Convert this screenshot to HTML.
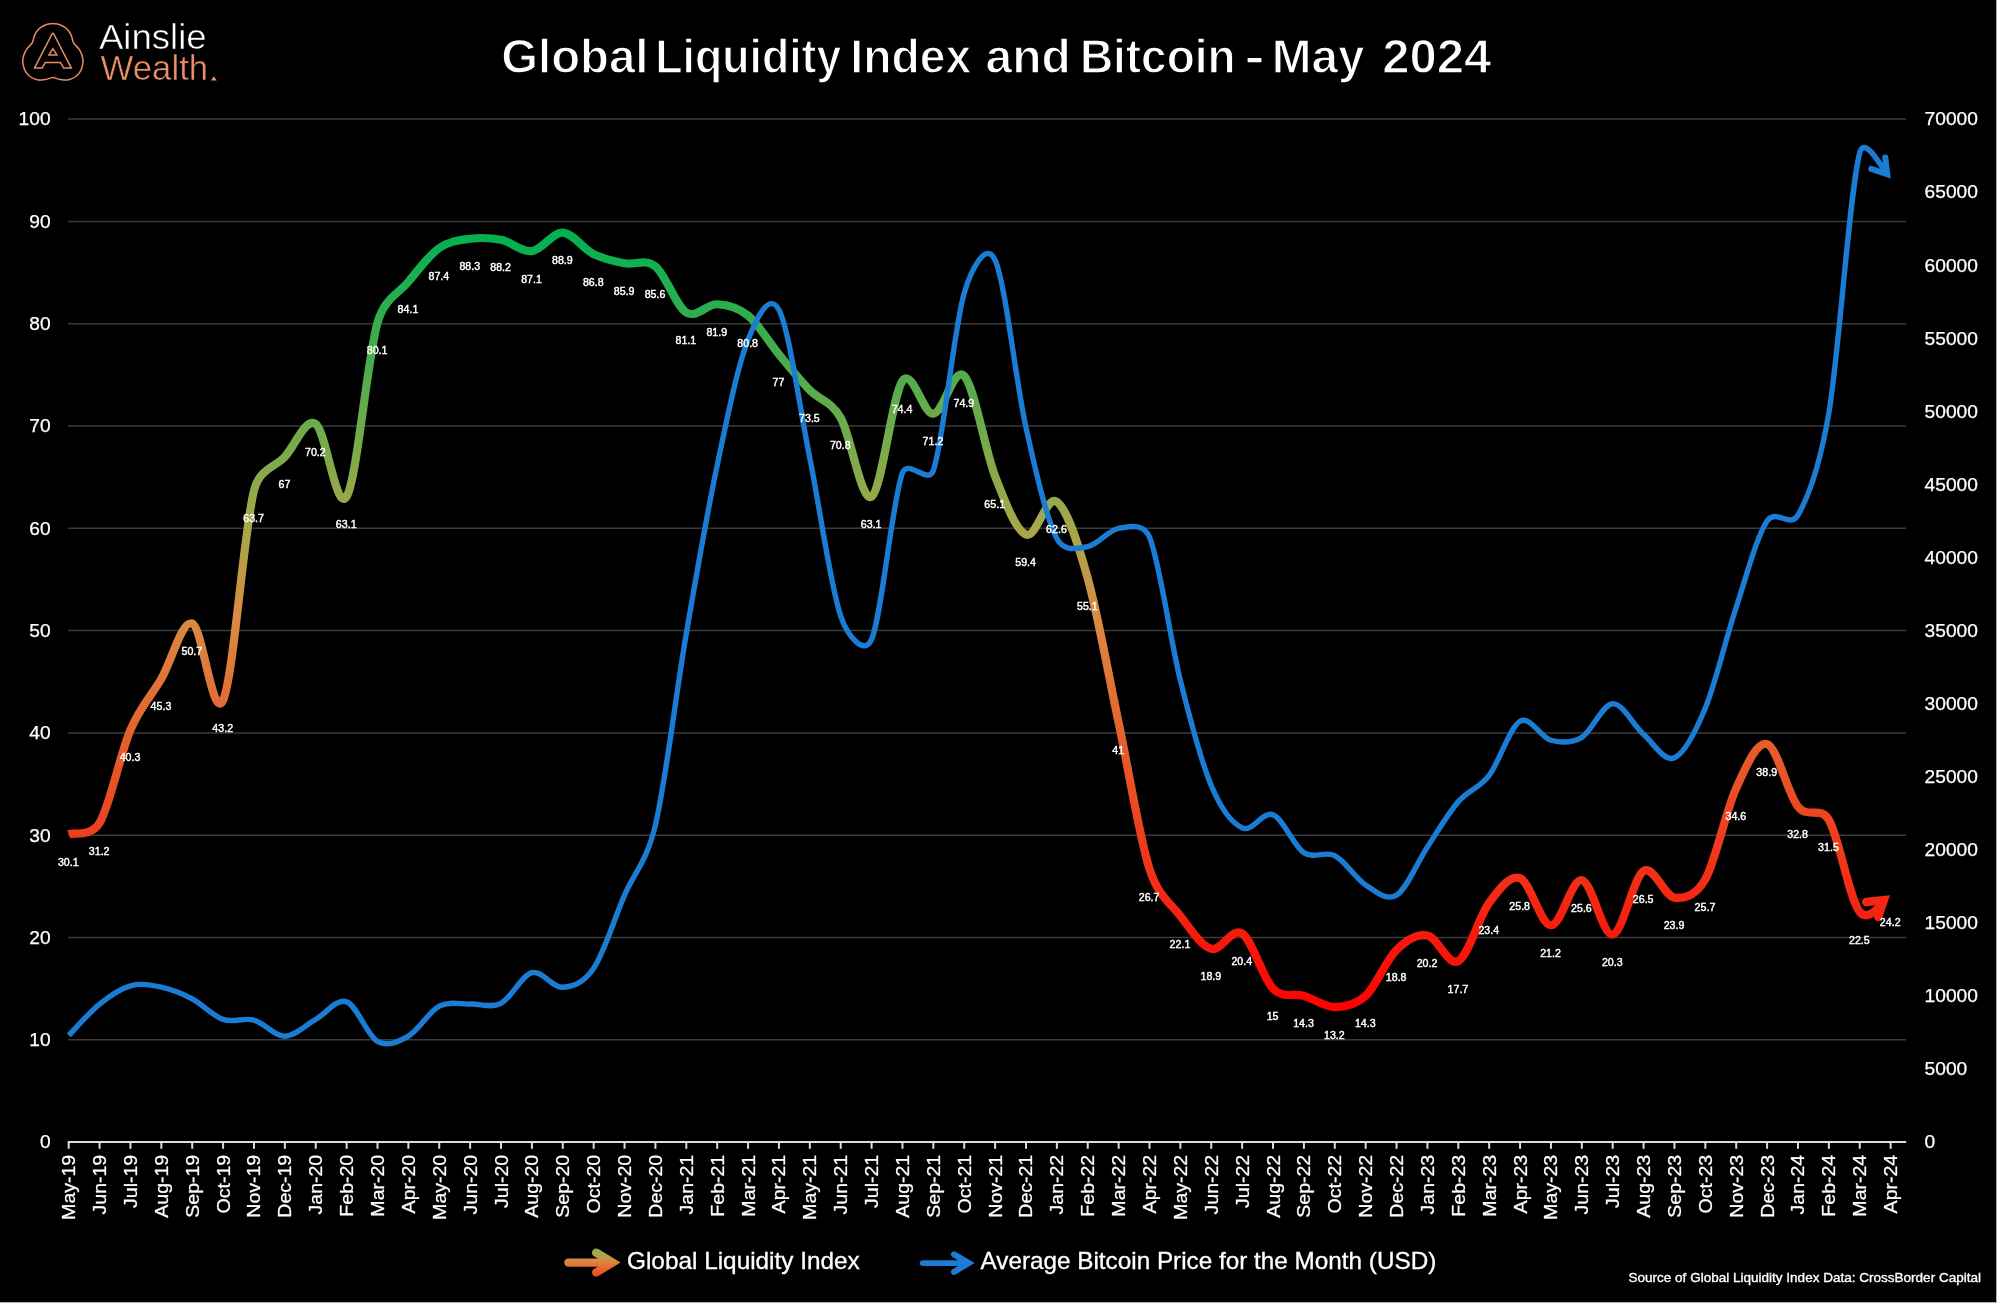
<!DOCTYPE html>
<html lang="en"><head><meta charset="utf-8"><title>Global Liquidity Index and Bitcoin - May 2024</title>
<style>html,body{margin:0;padding:0;background:#fff;}body{width:2000px;height:1305px;overflow:hidden;}svg{display:block;will-change:transform;}text{font-family:"Liberation Sans",sans-serif;}</style></head>
<body>
<svg width="2000" height="1305" viewBox="0 0 2000 1305" font-family="'Liberation Sans', sans-serif">
<defs>
<linearGradient id="lg" gradientUnits="userSpaceOnUse" x1="0" y1="228.66" x2="0" y2="1011.11"><stop offset="0" stop-color="rgb(0,176,80)"/><stop offset="0.38" stop-color="rgb(165,168,74)"/><stop offset="0.5" stop-color="rgb(217,138,66)"/><stop offset="1" stop-color="rgb(255,0,0)"/></linearGradient>
<linearGradient id="lg2" gradientUnits="userSpaceOnUse" x1="0" y1="1228" x2="0" y2="1293"><stop offset="0" stop-color="rgb(0,176,80)"/><stop offset="0.38" stop-color="rgb(165,168,74)"/><stop offset="0.5" stop-color="rgb(217,138,66)"/><stop offset="1" stop-color="rgb(255,0,0)"/></linearGradient>
<filter id="edge" x="-1%" y="-1%" width="102%" height="102%"><feGaussianBlur stdDeviation="0.7"/></filter>
</defs>
<rect x="0" y="0" width="2000" height="1305" fill="#fff"/>
<rect x="-3" y="-3" width="2000" height="1306" fill="#b0b0b0" filter="url(#edge)"/>
<rect x="0" y="0" width="1996" height="1302" fill="#000"/>
<line x1="68.0" x2="1906.0" y1="1039.85" y2="1039.85" stroke="#3b3b3d" stroke-width="1.5"/>
<line x1="68.0" x2="1906.0" y1="937.54" y2="937.54" stroke="#3b3b3d" stroke-width="1.5"/>
<line x1="68.0" x2="1906.0" y1="835.24" y2="835.24" stroke="#3b3b3d" stroke-width="1.5"/>
<line x1="68.0" x2="1906.0" y1="732.93" y2="732.93" stroke="#3b3b3d" stroke-width="1.5"/>
<line x1="68.0" x2="1906.0" y1="630.62" y2="630.62" stroke="#3b3b3d" stroke-width="1.5"/>
<line x1="68.0" x2="1906.0" y1="528.32" y2="528.32" stroke="#3b3b3d" stroke-width="1.5"/>
<line x1="68.0" x2="1906.0" y1="426.01" y2="426.01" stroke="#3b3b3d" stroke-width="1.5"/>
<line x1="68.0" x2="1906.0" y1="323.71" y2="323.71" stroke="#3b3b3d" stroke-width="1.5"/>
<line x1="68.0" x2="1906.0" y1="221.4" y2="221.4" stroke="#3b3b3d" stroke-width="1.5"/>
<line x1="68.0" x2="1906.0" y1="119.1" y2="119.1" stroke="#3b3b3d" stroke-width="1.5"/>
<path d="M68.7,834.21C73.85,832.34 91.21,837.1 99.58,822.96C109.87,805.57 120.17,753.9 130.46,729.86C140.75,705.82 151.05,696.44 161.34,678.71C171.63,660.98 181.93,619.88 192.22,623.46C202.51,627.04 212.81,722.36 223.1,700.19C233.39,678.03 243.69,531.05 253.98,490.47C259.6,468.29 274.57,467.79 284.86,456.71C295.15,445.62 305.45,417.32 315.74,423.97C326.03,430.62 336.33,513.49 346.62,496.61C356.91,479.73 367.21,358.49 377.5,322.69C384.58,298.05 398.09,294.21 408.38,281.76C418.67,269.32 428.97,255.17 439.26,248C449.55,240.84 459.85,240.16 470.14,238.8C480.43,237.43 490.73,237.77 501.02,239.82C511.31,241.87 521.61,252.27 531.9,251.07C542.19,249.88 552.49,232.15 562.78,232.66C573.07,233.17 583.37,249.03 593.66,254.14C603.95,259.26 614.25,261.3 624.54,263.35C634.83,265.4 645.13,258.23 655.42,266.42C665.71,274.6 676.01,306.15 686.3,312.46C696.59,318.77 706.89,303.76 717.18,304.27C727.47,304.78 737.77,307.17 748.06,315.53C758.35,323.88 768.65,341.95 778.94,354.4C789.23,366.85 799.53,379.64 809.82,390.21C820.11,400.78 830.41,400.1 840.7,417.83C850.99,435.56 861.29,502.74 871.58,496.61C881.87,490.47 892.17,394.81 902.46,381C912.75,367.19 923.05,414.59 933.34,413.74C943.63,412.89 953.93,365.48 964.22,375.89C974.51,386.29 984.81,449.72 995.1,476.14C1005.39,502.57 1015.69,530.2 1025.98,534.46C1036.27,538.72 1046.57,494.39 1056.86,501.72C1067.15,509.05 1077.45,541.62 1087.74,578.45C1098.03,615.28 1108.33,674.28 1118.62,722.7C1128.91,771.12 1139.21,836.77 1149.5,869C1158.06,895.8 1170.09,902.76 1180.38,916.06C1190.67,929.36 1200.97,945.89 1211.26,948.79C1221.55,951.69 1231.85,926.8 1242.14,933.45C1252.43,940.1 1262.73,978.29 1273.02,988.69C1283.31,999.09 1293.61,992.78 1303.9,995.85C1314.19,998.92 1324.49,1007.11 1334.78,1007.11C1345.07,1007.11 1355.37,1005.4 1365.66,995.85C1375.95,986.31 1386.25,959.88 1396.54,949.82C1406.83,939.76 1417.13,933.62 1427.42,935.49C1437.71,937.37 1448.01,966.53 1458.3,961.07C1468.59,955.61 1478.89,916.57 1489.18,902.76C1499.47,888.95 1509.77,874.45 1520.06,878.2C1530.35,881.95 1540.65,924.92 1550.94,925.26C1561.23,925.6 1571.53,878.71 1581.82,880.25C1592.11,881.78 1602.41,936.01 1612.7,934.47C1622.99,932.94 1633.29,877.18 1643.58,871.04C1653.87,864.9 1664.17,896.28 1674.46,897.64C1684.75,899.01 1696.51,894.88 1705.34,879.23C1715.63,860.98 1725.93,810.68 1736.22,788.17C1746.51,765.67 1756.81,741.11 1767.1,744.18C1777.39,747.25 1787.69,793.97 1797.98,806.59C1808.27,819.21 1820.36,805.39 1828.86,819.89C1839.15,837.45 1849.45,899.52 1859.74,911.96C1866.33,919.93 1875.02,911.77 1881.77,904.1" fill="none" stroke="url(#lg)" stroke-width="8.2" stroke-linejoin="round"/>
<path d="M1878.08,916.88L1883.82,900.13L1866.22,902.02" fill="none" stroke="url(#lg)" stroke-width="8.5" stroke-linecap="round" stroke-linejoin="miter" stroke-miterlimit="10"/>
<path d="M68.7,1035.46C73.85,1030.22 89.29,1012.32 99.58,1004.04C109.87,995.76 120.17,988.57 130.46,985.77C140.75,982.97 151.05,985.04 161.34,987.23C171.63,989.42 181.93,993.56 192.22,998.92C202.51,1004.28 212.81,1015.85 223.1,1019.38C233.39,1022.92 243.69,1017.31 253.98,1020.11C264.27,1022.92 274.57,1036.31 284.86,1036.19C295.15,1036.07 305.45,1025.11 315.74,1019.38C326.03,1013.66 336.33,998.19 346.62,1001.85C356.91,1005.5 367.21,1035.58 377.5,1041.31C387.79,1047.03 398.09,1042.04 408.38,1036.19C418.67,1030.35 428.97,1011.59 439.26,1006.23C449.55,1000.87 459.85,1004.53 470.14,1004.04C480.43,1003.55 490.73,1008.54 501.02,1003.31C511.31,998.07 521.61,975.3 531.9,972.62C542.19,969.94 552.49,987.96 562.78,987.23C573.07,986.5 583.56,983.29 593.66,968.23C603.95,952.89 614.25,919.03 624.54,895.16C634.83,871.29 646.61,862.3 655.42,825C665.71,781.4 676.01,693.47 686.3,633.55C696.59,573.63 706.89,514.44 717.18,465.48C727.47,416.52 737.77,365.73 748.06,339.79C755.99,319.79 768.99,290.75 778.94,309.83C789.23,329.56 799.53,407.14 809.82,458.17C820.11,509.2 830.41,585.81 840.7,616.01C846.95,634.34 863.91,657.18 871.58,639.39C881.87,615.52 892.17,500.92 902.46,472.78C907.78,458.25 928.31,485.23 933.34,470.59C943.63,440.63 953.93,328.09 964.22,293.02C970.57,271.38 985.69,239.64 995.1,260.13C1005.39,282.54 1015.69,381.07 1025.98,427.48C1036.27,473.88 1046.57,518.7 1056.86,538.55C1064.2,552.71 1077.45,548.29 1087.74,546.59C1098.03,544.88 1108.33,529.9 1118.62,528.32C1128.91,526.74 1143.46,522.22 1149.5,537.09C1159.79,562.42 1170.09,638.91 1180.38,680.32C1190.67,721.73 1200.97,760.94 1211.26,785.54C1221.38,809.73 1231.85,823.06 1242.14,827.93C1252.43,832.8 1262.73,810.63 1273.02,814.77C1283.31,818.91 1293.61,845.95 1303.9,852.77C1314.19,859.59 1324.49,850.34 1334.78,855.7C1345.07,861.05 1355.37,878.35 1365.66,884.93C1375.95,891.5 1386.25,901.49 1396.54,895.16C1406.83,888.82 1417.13,862.52 1427.42,846.93C1437.71,831.34 1448.01,813.56 1458.3,801.62C1468.59,789.68 1478.89,788.71 1489.18,775.31C1499.47,761.92 1509.77,727.08 1520.06,721.24C1530.35,715.39 1540.65,737.56 1550.94,740.24C1561.23,742.92 1571.53,743.4 1581.82,737.31C1592.11,731.22 1602.41,704.19 1612.7,703.7C1622.99,703.21 1633.29,725.38 1643.58,734.39C1653.87,743.4 1664.17,762.16 1674.46,757.78C1684.75,753.39 1695.05,733.17 1705.34,708.08C1715.63,683 1725.93,638.42 1736.22,607.24C1746.51,576.06 1756.81,536.36 1767.1,521.01C1775.85,507.96 1790.19,528.81 1797.98,515.17C1808.27,497.14 1819.88,465.53 1828.86,412.86C1839.15,352.45 1849.45,191.69 1859.74,152.71C1863.78,137.43 1877.16,159.3 1885.3,171.76" fill="none" stroke="#1a7cd2" stroke-width="5.4" stroke-linejoin="round"/>
<path d="M1871.25,168.93L1887.19,174.26L1885.28,157.57" fill="none" stroke="#1a7cd2" stroke-width="6.0" stroke-linecap="round" stroke-linejoin="miter" stroke-miterlimit="10"/>
<line x1="67.7" x2="1906.2" y1="1142.1" y2="1142.1" stroke="#dcdcdc" stroke-width="2"/>
<line x1="68.7" x2="68.7" y1="1142" y2="1148.8" stroke="#dcdcdc" stroke-width="2"/>
<line x1="99.58" x2="99.58" y1="1142" y2="1148.8" stroke="#dcdcdc" stroke-width="2"/>
<line x1="130.46" x2="130.46" y1="1142" y2="1148.8" stroke="#dcdcdc" stroke-width="2"/>
<line x1="161.34" x2="161.34" y1="1142" y2="1148.8" stroke="#dcdcdc" stroke-width="2"/>
<line x1="192.22" x2="192.22" y1="1142" y2="1148.8" stroke="#dcdcdc" stroke-width="2"/>
<line x1="223.1" x2="223.1" y1="1142" y2="1148.8" stroke="#dcdcdc" stroke-width="2"/>
<line x1="253.98" x2="253.98" y1="1142" y2="1148.8" stroke="#dcdcdc" stroke-width="2"/>
<line x1="284.86" x2="284.86" y1="1142" y2="1148.8" stroke="#dcdcdc" stroke-width="2"/>
<line x1="315.74" x2="315.74" y1="1142" y2="1148.8" stroke="#dcdcdc" stroke-width="2"/>
<line x1="346.62" x2="346.62" y1="1142" y2="1148.8" stroke="#dcdcdc" stroke-width="2"/>
<line x1="377.5" x2="377.5" y1="1142" y2="1148.8" stroke="#dcdcdc" stroke-width="2"/>
<line x1="408.38" x2="408.38" y1="1142" y2="1148.8" stroke="#dcdcdc" stroke-width="2"/>
<line x1="439.26" x2="439.26" y1="1142" y2="1148.8" stroke="#dcdcdc" stroke-width="2"/>
<line x1="470.14" x2="470.14" y1="1142" y2="1148.8" stroke="#dcdcdc" stroke-width="2"/>
<line x1="501.02" x2="501.02" y1="1142" y2="1148.8" stroke="#dcdcdc" stroke-width="2"/>
<line x1="531.9" x2="531.9" y1="1142" y2="1148.8" stroke="#dcdcdc" stroke-width="2"/>
<line x1="562.78" x2="562.78" y1="1142" y2="1148.8" stroke="#dcdcdc" stroke-width="2"/>
<line x1="593.66" x2="593.66" y1="1142" y2="1148.8" stroke="#dcdcdc" stroke-width="2"/>
<line x1="624.54" x2="624.54" y1="1142" y2="1148.8" stroke="#dcdcdc" stroke-width="2"/>
<line x1="655.42" x2="655.42" y1="1142" y2="1148.8" stroke="#dcdcdc" stroke-width="2"/>
<line x1="686.3" x2="686.3" y1="1142" y2="1148.8" stroke="#dcdcdc" stroke-width="2"/>
<line x1="717.18" x2="717.18" y1="1142" y2="1148.8" stroke="#dcdcdc" stroke-width="2"/>
<line x1="748.06" x2="748.06" y1="1142" y2="1148.8" stroke="#dcdcdc" stroke-width="2"/>
<line x1="778.94" x2="778.94" y1="1142" y2="1148.8" stroke="#dcdcdc" stroke-width="2"/>
<line x1="809.82" x2="809.82" y1="1142" y2="1148.8" stroke="#dcdcdc" stroke-width="2"/>
<line x1="840.7" x2="840.7" y1="1142" y2="1148.8" stroke="#dcdcdc" stroke-width="2"/>
<line x1="871.58" x2="871.58" y1="1142" y2="1148.8" stroke="#dcdcdc" stroke-width="2"/>
<line x1="902.46" x2="902.46" y1="1142" y2="1148.8" stroke="#dcdcdc" stroke-width="2"/>
<line x1="933.34" x2="933.34" y1="1142" y2="1148.8" stroke="#dcdcdc" stroke-width="2"/>
<line x1="964.22" x2="964.22" y1="1142" y2="1148.8" stroke="#dcdcdc" stroke-width="2"/>
<line x1="995.1" x2="995.1" y1="1142" y2="1148.8" stroke="#dcdcdc" stroke-width="2"/>
<line x1="1025.98" x2="1025.98" y1="1142" y2="1148.8" stroke="#dcdcdc" stroke-width="2"/>
<line x1="1056.86" x2="1056.86" y1="1142" y2="1148.8" stroke="#dcdcdc" stroke-width="2"/>
<line x1="1087.74" x2="1087.74" y1="1142" y2="1148.8" stroke="#dcdcdc" stroke-width="2"/>
<line x1="1118.62" x2="1118.62" y1="1142" y2="1148.8" stroke="#dcdcdc" stroke-width="2"/>
<line x1="1149.5" x2="1149.5" y1="1142" y2="1148.8" stroke="#dcdcdc" stroke-width="2"/>
<line x1="1180.38" x2="1180.38" y1="1142" y2="1148.8" stroke="#dcdcdc" stroke-width="2"/>
<line x1="1211.26" x2="1211.26" y1="1142" y2="1148.8" stroke="#dcdcdc" stroke-width="2"/>
<line x1="1242.14" x2="1242.14" y1="1142" y2="1148.8" stroke="#dcdcdc" stroke-width="2"/>
<line x1="1273.02" x2="1273.02" y1="1142" y2="1148.8" stroke="#dcdcdc" stroke-width="2"/>
<line x1="1303.9" x2="1303.9" y1="1142" y2="1148.8" stroke="#dcdcdc" stroke-width="2"/>
<line x1="1334.78" x2="1334.78" y1="1142" y2="1148.8" stroke="#dcdcdc" stroke-width="2"/>
<line x1="1365.66" x2="1365.66" y1="1142" y2="1148.8" stroke="#dcdcdc" stroke-width="2"/>
<line x1="1396.54" x2="1396.54" y1="1142" y2="1148.8" stroke="#dcdcdc" stroke-width="2"/>
<line x1="1427.42" x2="1427.42" y1="1142" y2="1148.8" stroke="#dcdcdc" stroke-width="2"/>
<line x1="1458.3" x2="1458.3" y1="1142" y2="1148.8" stroke="#dcdcdc" stroke-width="2"/>
<line x1="1489.18" x2="1489.18" y1="1142" y2="1148.8" stroke="#dcdcdc" stroke-width="2"/>
<line x1="1520.06" x2="1520.06" y1="1142" y2="1148.8" stroke="#dcdcdc" stroke-width="2"/>
<line x1="1550.94" x2="1550.94" y1="1142" y2="1148.8" stroke="#dcdcdc" stroke-width="2"/>
<line x1="1581.82" x2="1581.82" y1="1142" y2="1148.8" stroke="#dcdcdc" stroke-width="2"/>
<line x1="1612.7" x2="1612.7" y1="1142" y2="1148.8" stroke="#dcdcdc" stroke-width="2"/>
<line x1="1643.58" x2="1643.58" y1="1142" y2="1148.8" stroke="#dcdcdc" stroke-width="2"/>
<line x1="1674.46" x2="1674.46" y1="1142" y2="1148.8" stroke="#dcdcdc" stroke-width="2"/>
<line x1="1705.34" x2="1705.34" y1="1142" y2="1148.8" stroke="#dcdcdc" stroke-width="2"/>
<line x1="1736.22" x2="1736.22" y1="1142" y2="1148.8" stroke="#dcdcdc" stroke-width="2"/>
<line x1="1767.1" x2="1767.1" y1="1142" y2="1148.8" stroke="#dcdcdc" stroke-width="2"/>
<line x1="1797.98" x2="1797.98" y1="1142" y2="1148.8" stroke="#dcdcdc" stroke-width="2"/>
<line x1="1828.86" x2="1828.86" y1="1142" y2="1148.8" stroke="#dcdcdc" stroke-width="2"/>
<line x1="1859.74" x2="1859.74" y1="1142" y2="1148.8" stroke="#dcdcdc" stroke-width="2"/>
<line x1="1890.62" x2="1890.62" y1="1142" y2="1148.8" stroke="#dcdcdc" stroke-width="2"/>
<text transform="translate(75.2,1154.8) rotate(-90) scale(1.085,1)" text-anchor="end" font-size="18" fill="#fff" stroke="#fff" stroke-width="0.25">May-19</text>
<text transform="translate(106.08,1154.8) rotate(-90) scale(1.085,1)" text-anchor="end" font-size="18" fill="#fff" stroke="#fff" stroke-width="0.25">Jun-19</text>
<text transform="translate(136.96,1154.8) rotate(-90) scale(1.085,1)" text-anchor="end" font-size="18" fill="#fff" stroke="#fff" stroke-width="0.25">Jul-19</text>
<text transform="translate(167.84,1154.8) rotate(-90) scale(1.085,1)" text-anchor="end" font-size="18" fill="#fff" stroke="#fff" stroke-width="0.25">Aug-19</text>
<text transform="translate(198.72,1154.8) rotate(-90) scale(1.085,1)" text-anchor="end" font-size="18" fill="#fff" stroke="#fff" stroke-width="0.25">Sep-19</text>
<text transform="translate(229.6,1154.8) rotate(-90) scale(1.085,1)" text-anchor="end" font-size="18" fill="#fff" stroke="#fff" stroke-width="0.25">Oct-19</text>
<text transform="translate(260.48,1154.8) rotate(-90) scale(1.085,1)" text-anchor="end" font-size="18" fill="#fff" stroke="#fff" stroke-width="0.25">Nov-19</text>
<text transform="translate(291.36,1154.8) rotate(-90) scale(1.085,1)" text-anchor="end" font-size="18" fill="#fff" stroke="#fff" stroke-width="0.25">Dec-19</text>
<text transform="translate(322.24,1154.8) rotate(-90) scale(1.085,1)" text-anchor="end" font-size="18" fill="#fff" stroke="#fff" stroke-width="0.25">Jan-20</text>
<text transform="translate(353.12,1154.8) rotate(-90) scale(1.085,1)" text-anchor="end" font-size="18" fill="#fff" stroke="#fff" stroke-width="0.25">Feb-20</text>
<text transform="translate(384,1154.8) rotate(-90) scale(1.085,1)" text-anchor="end" font-size="18" fill="#fff" stroke="#fff" stroke-width="0.25">Mar-20</text>
<text transform="translate(414.88,1154.8) rotate(-90) scale(1.085,1)" text-anchor="end" font-size="18" fill="#fff" stroke="#fff" stroke-width="0.25">Apr-20</text>
<text transform="translate(445.76,1154.8) rotate(-90) scale(1.085,1)" text-anchor="end" font-size="18" fill="#fff" stroke="#fff" stroke-width="0.25">May-20</text>
<text transform="translate(476.64,1154.8) rotate(-90) scale(1.085,1)" text-anchor="end" font-size="18" fill="#fff" stroke="#fff" stroke-width="0.25">Jun-20</text>
<text transform="translate(507.52,1154.8) rotate(-90) scale(1.085,1)" text-anchor="end" font-size="18" fill="#fff" stroke="#fff" stroke-width="0.25">Jul-20</text>
<text transform="translate(538.4,1154.8) rotate(-90) scale(1.085,1)" text-anchor="end" font-size="18" fill="#fff" stroke="#fff" stroke-width="0.25">Aug-20</text>
<text transform="translate(569.28,1154.8) rotate(-90) scale(1.085,1)" text-anchor="end" font-size="18" fill="#fff" stroke="#fff" stroke-width="0.25">Sep-20</text>
<text transform="translate(600.16,1154.8) rotate(-90) scale(1.085,1)" text-anchor="end" font-size="18" fill="#fff" stroke="#fff" stroke-width="0.25">Oct-20</text>
<text transform="translate(631.04,1154.8) rotate(-90) scale(1.085,1)" text-anchor="end" font-size="18" fill="#fff" stroke="#fff" stroke-width="0.25">Nov-20</text>
<text transform="translate(661.92,1154.8) rotate(-90) scale(1.085,1)" text-anchor="end" font-size="18" fill="#fff" stroke="#fff" stroke-width="0.25">Dec-20</text>
<text transform="translate(692.8,1154.8) rotate(-90) scale(1.085,1)" text-anchor="end" font-size="18" fill="#fff" stroke="#fff" stroke-width="0.25">Jan-21</text>
<text transform="translate(723.68,1154.8) rotate(-90) scale(1.085,1)" text-anchor="end" font-size="18" fill="#fff" stroke="#fff" stroke-width="0.25">Feb-21</text>
<text transform="translate(754.56,1154.8) rotate(-90) scale(1.085,1)" text-anchor="end" font-size="18" fill="#fff" stroke="#fff" stroke-width="0.25">Mar-21</text>
<text transform="translate(785.44,1154.8) rotate(-90) scale(1.085,1)" text-anchor="end" font-size="18" fill="#fff" stroke="#fff" stroke-width="0.25">Apr-21</text>
<text transform="translate(816.32,1154.8) rotate(-90) scale(1.085,1)" text-anchor="end" font-size="18" fill="#fff" stroke="#fff" stroke-width="0.25">May-21</text>
<text transform="translate(847.2,1154.8) rotate(-90) scale(1.085,1)" text-anchor="end" font-size="18" fill="#fff" stroke="#fff" stroke-width="0.25">Jun-21</text>
<text transform="translate(878.08,1154.8) rotate(-90) scale(1.085,1)" text-anchor="end" font-size="18" fill="#fff" stroke="#fff" stroke-width="0.25">Jul-21</text>
<text transform="translate(908.96,1154.8) rotate(-90) scale(1.085,1)" text-anchor="end" font-size="18" fill="#fff" stroke="#fff" stroke-width="0.25">Aug-21</text>
<text transform="translate(939.84,1154.8) rotate(-90) scale(1.085,1)" text-anchor="end" font-size="18" fill="#fff" stroke="#fff" stroke-width="0.25">Sep-21</text>
<text transform="translate(970.72,1154.8) rotate(-90) scale(1.085,1)" text-anchor="end" font-size="18" fill="#fff" stroke="#fff" stroke-width="0.25">Oct-21</text>
<text transform="translate(1001.6,1154.8) rotate(-90) scale(1.085,1)" text-anchor="end" font-size="18" fill="#fff" stroke="#fff" stroke-width="0.25">Nov-21</text>
<text transform="translate(1032.48,1154.8) rotate(-90) scale(1.085,1)" text-anchor="end" font-size="18" fill="#fff" stroke="#fff" stroke-width="0.25">Dec-21</text>
<text transform="translate(1063.36,1154.8) rotate(-90) scale(1.085,1)" text-anchor="end" font-size="18" fill="#fff" stroke="#fff" stroke-width="0.25">Jan-22</text>
<text transform="translate(1094.24,1154.8) rotate(-90) scale(1.085,1)" text-anchor="end" font-size="18" fill="#fff" stroke="#fff" stroke-width="0.25">Feb-22</text>
<text transform="translate(1125.12,1154.8) rotate(-90) scale(1.085,1)" text-anchor="end" font-size="18" fill="#fff" stroke="#fff" stroke-width="0.25">Mar-22</text>
<text transform="translate(1156,1154.8) rotate(-90) scale(1.085,1)" text-anchor="end" font-size="18" fill="#fff" stroke="#fff" stroke-width="0.25">Apr-22</text>
<text transform="translate(1186.88,1154.8) rotate(-90) scale(1.085,1)" text-anchor="end" font-size="18" fill="#fff" stroke="#fff" stroke-width="0.25">May-22</text>
<text transform="translate(1217.76,1154.8) rotate(-90) scale(1.085,1)" text-anchor="end" font-size="18" fill="#fff" stroke="#fff" stroke-width="0.25">Jun-22</text>
<text transform="translate(1248.64,1154.8) rotate(-90) scale(1.085,1)" text-anchor="end" font-size="18" fill="#fff" stroke="#fff" stroke-width="0.25">Jul-22</text>
<text transform="translate(1279.52,1154.8) rotate(-90) scale(1.085,1)" text-anchor="end" font-size="18" fill="#fff" stroke="#fff" stroke-width="0.25">Aug-22</text>
<text transform="translate(1310.4,1154.8) rotate(-90) scale(1.085,1)" text-anchor="end" font-size="18" fill="#fff" stroke="#fff" stroke-width="0.25">Sep-22</text>
<text transform="translate(1341.28,1154.8) rotate(-90) scale(1.085,1)" text-anchor="end" font-size="18" fill="#fff" stroke="#fff" stroke-width="0.25">Oct-22</text>
<text transform="translate(1372.16,1154.8) rotate(-90) scale(1.085,1)" text-anchor="end" font-size="18" fill="#fff" stroke="#fff" stroke-width="0.25">Nov-22</text>
<text transform="translate(1403.04,1154.8) rotate(-90) scale(1.085,1)" text-anchor="end" font-size="18" fill="#fff" stroke="#fff" stroke-width="0.25">Dec-22</text>
<text transform="translate(1433.92,1154.8) rotate(-90) scale(1.085,1)" text-anchor="end" font-size="18" fill="#fff" stroke="#fff" stroke-width="0.25">Jan-23</text>
<text transform="translate(1464.8,1154.8) rotate(-90) scale(1.085,1)" text-anchor="end" font-size="18" fill="#fff" stroke="#fff" stroke-width="0.25">Feb-23</text>
<text transform="translate(1495.68,1154.8) rotate(-90) scale(1.085,1)" text-anchor="end" font-size="18" fill="#fff" stroke="#fff" stroke-width="0.25">Mar-23</text>
<text transform="translate(1526.56,1154.8) rotate(-90) scale(1.085,1)" text-anchor="end" font-size="18" fill="#fff" stroke="#fff" stroke-width="0.25">Apr-23</text>
<text transform="translate(1557.44,1154.8) rotate(-90) scale(1.085,1)" text-anchor="end" font-size="18" fill="#fff" stroke="#fff" stroke-width="0.25">May-23</text>
<text transform="translate(1588.32,1154.8) rotate(-90) scale(1.085,1)" text-anchor="end" font-size="18" fill="#fff" stroke="#fff" stroke-width="0.25">Jun-23</text>
<text transform="translate(1619.2,1154.8) rotate(-90) scale(1.085,1)" text-anchor="end" font-size="18" fill="#fff" stroke="#fff" stroke-width="0.25">Jul-23</text>
<text transform="translate(1650.08,1154.8) rotate(-90) scale(1.085,1)" text-anchor="end" font-size="18" fill="#fff" stroke="#fff" stroke-width="0.25">Aug-23</text>
<text transform="translate(1680.96,1154.8) rotate(-90) scale(1.085,1)" text-anchor="end" font-size="18" fill="#fff" stroke="#fff" stroke-width="0.25">Sep-23</text>
<text transform="translate(1711.84,1154.8) rotate(-90) scale(1.085,1)" text-anchor="end" font-size="18" fill="#fff" stroke="#fff" stroke-width="0.25">Oct-23</text>
<text transform="translate(1742.72,1154.8) rotate(-90) scale(1.085,1)" text-anchor="end" font-size="18" fill="#fff" stroke="#fff" stroke-width="0.25">Nov-23</text>
<text transform="translate(1773.6,1154.8) rotate(-90) scale(1.085,1)" text-anchor="end" font-size="18" fill="#fff" stroke="#fff" stroke-width="0.25">Dec-23</text>
<text transform="translate(1804.48,1154.8) rotate(-90) scale(1.085,1)" text-anchor="end" font-size="18" fill="#fff" stroke="#fff" stroke-width="0.25">Jan-24</text>
<text transform="translate(1835.36,1154.8) rotate(-90) scale(1.085,1)" text-anchor="end" font-size="18" fill="#fff" stroke="#fff" stroke-width="0.25">Feb-24</text>
<text transform="translate(1866.24,1154.8) rotate(-90) scale(1.085,1)" text-anchor="end" font-size="18" fill="#fff" stroke="#fff" stroke-width="0.25">Mar-24</text>
<text transform="translate(1897.12,1154.8) rotate(-90) scale(1.085,1)" text-anchor="end" font-size="18" fill="#fff" stroke="#fff" stroke-width="0.25">Apr-24</text>
<text x="50.6" y="1148.45" text-anchor="end" font-size="17.6" fill="#fff" stroke="#fff" stroke-width="0.25" textLength="10.66" lengthAdjust="spacingAndGlyphs">0</text>
<text x="50.6" y="1046.14" text-anchor="end" font-size="17.6" fill="#fff" stroke="#fff" stroke-width="0.25" textLength="21.32" lengthAdjust="spacingAndGlyphs">10</text>
<text x="50.6" y="943.84" text-anchor="end" font-size="17.6" fill="#fff" stroke="#fff" stroke-width="0.25" textLength="21.32" lengthAdjust="spacingAndGlyphs">20</text>
<text x="50.6" y="841.54" text-anchor="end" font-size="17.6" fill="#fff" stroke="#fff" stroke-width="0.25" textLength="21.32" lengthAdjust="spacingAndGlyphs">30</text>
<text x="50.6" y="739.23" text-anchor="end" font-size="17.6" fill="#fff" stroke="#fff" stroke-width="0.25" textLength="21.32" lengthAdjust="spacingAndGlyphs">40</text>
<text x="50.6" y="636.92" text-anchor="end" font-size="17.6" fill="#fff" stroke="#fff" stroke-width="0.25" textLength="21.32" lengthAdjust="spacingAndGlyphs">50</text>
<text x="50.6" y="534.62" text-anchor="end" font-size="17.6" fill="#fff" stroke="#fff" stroke-width="0.25" textLength="21.32" lengthAdjust="spacingAndGlyphs">60</text>
<text x="50.6" y="432.31" text-anchor="end" font-size="17.6" fill="#fff" stroke="#fff" stroke-width="0.25" textLength="21.32" lengthAdjust="spacingAndGlyphs">70</text>
<text x="50.6" y="330.01" text-anchor="end" font-size="17.6" fill="#fff" stroke="#fff" stroke-width="0.25" textLength="21.32" lengthAdjust="spacingAndGlyphs">80</text>
<text x="50.6" y="227.7" text-anchor="end" font-size="17.6" fill="#fff" stroke="#fff" stroke-width="0.25" textLength="21.32" lengthAdjust="spacingAndGlyphs">90</text>
<text x="50.6" y="125.4" text-anchor="end" font-size="17.6" fill="#fff" stroke="#fff" stroke-width="0.25" textLength="31.98" lengthAdjust="spacingAndGlyphs">100</text>
<text x="1924.6" y="1148.45" font-size="17.6" fill="#fff" stroke="#fff" stroke-width="0.25" textLength="10.66" lengthAdjust="spacingAndGlyphs">0</text>
<text x="1924.6" y="1075.38" font-size="17.6" fill="#fff" stroke="#fff" stroke-width="0.25" textLength="42.64" lengthAdjust="spacingAndGlyphs">5000</text>
<text x="1924.6" y="1002.3" font-size="17.6" fill="#fff" stroke="#fff" stroke-width="0.25" textLength="53.3" lengthAdjust="spacingAndGlyphs">10000</text>
<text x="1924.6" y="929.23" font-size="17.6" fill="#fff" stroke="#fff" stroke-width="0.25" textLength="53.3" lengthAdjust="spacingAndGlyphs">15000</text>
<text x="1924.6" y="856.15" font-size="17.6" fill="#fff" stroke="#fff" stroke-width="0.25" textLength="53.3" lengthAdjust="spacingAndGlyphs">20000</text>
<text x="1924.6" y="783.08" font-size="17.6" fill="#fff" stroke="#fff" stroke-width="0.25" textLength="53.3" lengthAdjust="spacingAndGlyphs">25000</text>
<text x="1924.6" y="710" font-size="17.6" fill="#fff" stroke="#fff" stroke-width="0.25" textLength="53.3" lengthAdjust="spacingAndGlyphs">30000</text>
<text x="1924.6" y="636.92" font-size="17.6" fill="#fff" stroke="#fff" stroke-width="0.25" textLength="53.3" lengthAdjust="spacingAndGlyphs">35000</text>
<text x="1924.6" y="563.85" font-size="17.6" fill="#fff" stroke="#fff" stroke-width="0.25" textLength="53.3" lengthAdjust="spacingAndGlyphs">40000</text>
<text x="1924.6" y="490.78" font-size="17.6" fill="#fff" stroke="#fff" stroke-width="0.25" textLength="53.3" lengthAdjust="spacingAndGlyphs">45000</text>
<text x="1924.6" y="417.7" font-size="17.6" fill="#fff" stroke="#fff" stroke-width="0.25" textLength="53.3" lengthAdjust="spacingAndGlyphs">50000</text>
<text x="1924.6" y="344.63" font-size="17.6" fill="#fff" stroke="#fff" stroke-width="0.25" textLength="53.3" lengthAdjust="spacingAndGlyphs">55000</text>
<text x="1924.6" y="271.55" font-size="17.6" fill="#fff" stroke="#fff" stroke-width="0.25" textLength="53.3" lengthAdjust="spacingAndGlyphs">60000</text>
<text x="1924.6" y="198.47" font-size="17.6" fill="#fff" stroke="#fff" stroke-width="0.25" textLength="53.3" lengthAdjust="spacingAndGlyphs">65000</text>
<text x="1924.6" y="125.4" font-size="17.6" fill="#fff" stroke="#fff" stroke-width="0.25" textLength="53.3" lengthAdjust="spacingAndGlyphs">70000</text>
<text transform="translate(68.3,865.81) scale(1.065,1)" text-anchor="middle" font-size="10" fill="#fff" stroke="#fff" stroke-width="0.4">30.1</text>
<text transform="translate(99.18,854.56) scale(1.065,1)" text-anchor="middle" font-size="10" fill="#fff" stroke="#fff" stroke-width="0.4">31.2</text>
<text transform="translate(130.06,761.46) scale(1.065,1)" text-anchor="middle" font-size="10" fill="#fff" stroke="#fff" stroke-width="0.4">40.3</text>
<text transform="translate(160.94,710.31) scale(1.065,1)" text-anchor="middle" font-size="10" fill="#fff" stroke="#fff" stroke-width="0.4">45.3</text>
<text transform="translate(191.82,655.06) scale(1.065,1)" text-anchor="middle" font-size="10" fill="#fff" stroke="#fff" stroke-width="0.4">50.7</text>
<text transform="translate(222.7,731.79) scale(1.065,1)" text-anchor="middle" font-size="10" fill="#fff" stroke="#fff" stroke-width="0.4">43.2</text>
<text transform="translate(253.58,522.07) scale(1.065,1)" text-anchor="middle" font-size="10" fill="#fff" stroke="#fff" stroke-width="0.4">63.7</text>
<text transform="translate(284.46,488.31) scale(1.065,1)" text-anchor="middle" font-size="10" fill="#fff" stroke="#fff" stroke-width="0.4">67</text>
<text transform="translate(315.34,455.57) scale(1.065,1)" text-anchor="middle" font-size="10" fill="#fff" stroke="#fff" stroke-width="0.4">70.2</text>
<text transform="translate(346.22,528.21) scale(1.065,1)" text-anchor="middle" font-size="10" fill="#fff" stroke="#fff" stroke-width="0.4">63.1</text>
<text transform="translate(377.1,354.29) scale(1.065,1)" text-anchor="middle" font-size="10" fill="#fff" stroke="#fff" stroke-width="0.4">80.1</text>
<text transform="translate(407.98,313.36) scale(1.065,1)" text-anchor="middle" font-size="10" fill="#fff" stroke="#fff" stroke-width="0.4">84.1</text>
<text transform="translate(438.86,279.6) scale(1.065,1)" text-anchor="middle" font-size="10" fill="#fff" stroke="#fff" stroke-width="0.4">87.4</text>
<text transform="translate(469.74,270.4) scale(1.065,1)" text-anchor="middle" font-size="10" fill="#fff" stroke="#fff" stroke-width="0.4">88.3</text>
<text transform="translate(500.62,271.42) scale(1.065,1)" text-anchor="middle" font-size="10" fill="#fff" stroke="#fff" stroke-width="0.4">88.2</text>
<text transform="translate(531.5,282.67) scale(1.065,1)" text-anchor="middle" font-size="10" fill="#fff" stroke="#fff" stroke-width="0.4">87.1</text>
<text transform="translate(562.38,264.26) scale(1.065,1)" text-anchor="middle" font-size="10" fill="#fff" stroke="#fff" stroke-width="0.4">88.9</text>
<text transform="translate(593.26,285.74) scale(1.065,1)" text-anchor="middle" font-size="10" fill="#fff" stroke="#fff" stroke-width="0.4">86.8</text>
<text transform="translate(624.14,294.95) scale(1.065,1)" text-anchor="middle" font-size="10" fill="#fff" stroke="#fff" stroke-width="0.4">85.9</text>
<text transform="translate(655.02,298.02) scale(1.065,1)" text-anchor="middle" font-size="10" fill="#fff" stroke="#fff" stroke-width="0.4">85.6</text>
<text transform="translate(685.9,344.06) scale(1.065,1)" text-anchor="middle" font-size="10" fill="#fff" stroke="#fff" stroke-width="0.4">81.1</text>
<text transform="translate(716.78,335.87) scale(1.065,1)" text-anchor="middle" font-size="10" fill="#fff" stroke="#fff" stroke-width="0.4">81.9</text>
<text transform="translate(747.66,347.13) scale(1.065,1)" text-anchor="middle" font-size="10" fill="#fff" stroke="#fff" stroke-width="0.4">80.8</text>
<text transform="translate(778.54,386) scale(1.065,1)" text-anchor="middle" font-size="10" fill="#fff" stroke="#fff" stroke-width="0.4">77</text>
<text transform="translate(809.42,421.81) scale(1.065,1)" text-anchor="middle" font-size="10" fill="#fff" stroke="#fff" stroke-width="0.4">73.5</text>
<text transform="translate(840.3,449.43) scale(1.065,1)" text-anchor="middle" font-size="10" fill="#fff" stroke="#fff" stroke-width="0.4">70.8</text>
<text transform="translate(871.18,528.21) scale(1.065,1)" text-anchor="middle" font-size="10" fill="#fff" stroke="#fff" stroke-width="0.4">63.1</text>
<text transform="translate(902.06,412.6) scale(1.065,1)" text-anchor="middle" font-size="10" fill="#fff" stroke="#fff" stroke-width="0.4">74.4</text>
<text transform="translate(932.94,445.34) scale(1.065,1)" text-anchor="middle" font-size="10" fill="#fff" stroke="#fff" stroke-width="0.4">71.2</text>
<text transform="translate(963.82,407.49) scale(1.065,1)" text-anchor="middle" font-size="10" fill="#fff" stroke="#fff" stroke-width="0.4">74.9</text>
<text transform="translate(994.7,507.74) scale(1.065,1)" text-anchor="middle" font-size="10" fill="#fff" stroke="#fff" stroke-width="0.4">65.1</text>
<text transform="translate(1025.58,566.06) scale(1.065,1)" text-anchor="middle" font-size="10" fill="#fff" stroke="#fff" stroke-width="0.4">59.4</text>
<text transform="translate(1056.46,533.32) scale(1.065,1)" text-anchor="middle" font-size="10" fill="#fff" stroke="#fff" stroke-width="0.4">62.6</text>
<text transform="translate(1087.34,610.05) scale(1.065,1)" text-anchor="middle" font-size="10" fill="#fff" stroke="#fff" stroke-width="0.4">55.1</text>
<text transform="translate(1118.22,754.3) scale(1.065,1)" text-anchor="middle" font-size="10" fill="#fff" stroke="#fff" stroke-width="0.4">41</text>
<text transform="translate(1149.1,900.6) scale(1.065,1)" text-anchor="middle" font-size="10" fill="#fff" stroke="#fff" stroke-width="0.4">26.7</text>
<text transform="translate(1179.98,947.66) scale(1.065,1)" text-anchor="middle" font-size="10" fill="#fff" stroke="#fff" stroke-width="0.4">22.1</text>
<text transform="translate(1210.86,980.39) scale(1.065,1)" text-anchor="middle" font-size="10" fill="#fff" stroke="#fff" stroke-width="0.4">18.9</text>
<text transform="translate(1241.74,965.05) scale(1.065,1)" text-anchor="middle" font-size="10" fill="#fff" stroke="#fff" stroke-width="0.4">20.4</text>
<text transform="translate(1272.62,1020.29) scale(1.065,1)" text-anchor="middle" font-size="10" fill="#fff" stroke="#fff" stroke-width="0.4">15</text>
<text transform="translate(1303.5,1027.45) scale(1.065,1)" text-anchor="middle" font-size="10" fill="#fff" stroke="#fff" stroke-width="0.4">14.3</text>
<text transform="translate(1334.38,1038.71) scale(1.065,1)" text-anchor="middle" font-size="10" fill="#fff" stroke="#fff" stroke-width="0.4">13.2</text>
<text transform="translate(1365.26,1027.45) scale(1.065,1)" text-anchor="middle" font-size="10" fill="#fff" stroke="#fff" stroke-width="0.4">14.3</text>
<text transform="translate(1396.14,981.42) scale(1.065,1)" text-anchor="middle" font-size="10" fill="#fff" stroke="#fff" stroke-width="0.4">18.8</text>
<text transform="translate(1427.02,967.09) scale(1.065,1)" text-anchor="middle" font-size="10" fill="#fff" stroke="#fff" stroke-width="0.4">20.2</text>
<text transform="translate(1457.9,992.67) scale(1.065,1)" text-anchor="middle" font-size="10" fill="#fff" stroke="#fff" stroke-width="0.4">17.7</text>
<text transform="translate(1488.78,934.36) scale(1.065,1)" text-anchor="middle" font-size="10" fill="#fff" stroke="#fff" stroke-width="0.4">23.4</text>
<text transform="translate(1519.66,909.8) scale(1.065,1)" text-anchor="middle" font-size="10" fill="#fff" stroke="#fff" stroke-width="0.4">25.8</text>
<text transform="translate(1550.54,956.86) scale(1.065,1)" text-anchor="middle" font-size="10" fill="#fff" stroke="#fff" stroke-width="0.4">21.2</text>
<text transform="translate(1581.42,911.85) scale(1.065,1)" text-anchor="middle" font-size="10" fill="#fff" stroke="#fff" stroke-width="0.4">25.6</text>
<text transform="translate(1612.3,966.07) scale(1.065,1)" text-anchor="middle" font-size="10" fill="#fff" stroke="#fff" stroke-width="0.4">20.3</text>
<text transform="translate(1643.18,902.64) scale(1.065,1)" text-anchor="middle" font-size="10" fill="#fff" stroke="#fff" stroke-width="0.4">26.5</text>
<text transform="translate(1674.06,929.24) scale(1.065,1)" text-anchor="middle" font-size="10" fill="#fff" stroke="#fff" stroke-width="0.4">23.9</text>
<text transform="translate(1704.94,910.83) scale(1.065,1)" text-anchor="middle" font-size="10" fill="#fff" stroke="#fff" stroke-width="0.4">25.7</text>
<text transform="translate(1735.82,819.77) scale(1.065,1)" text-anchor="middle" font-size="10" fill="#fff" stroke="#fff" stroke-width="0.4">34.6</text>
<text transform="translate(1766.7,775.78) scale(1.065,1)" text-anchor="middle" font-size="10" fill="#fff" stroke="#fff" stroke-width="0.4">38.9</text>
<text transform="translate(1797.58,838.19) scale(1.065,1)" text-anchor="middle" font-size="10" fill="#fff" stroke="#fff" stroke-width="0.4">32.8</text>
<text transform="translate(1828.46,851.49) scale(1.065,1)" text-anchor="middle" font-size="10" fill="#fff" stroke="#fff" stroke-width="0.4">31.5</text>
<text transform="translate(1859.34,943.56) scale(1.065,1)" text-anchor="middle" font-size="10" fill="#fff" stroke="#fff" stroke-width="0.4">22.5</text>
<text transform="translate(1890.22,926.17) scale(1.065,1)" text-anchor="middle" font-size="10" fill="#fff" stroke="#fff" stroke-width="0.4">24.2</text>
<g font-size="48.5" font-weight="bold" fill="#fff" stroke="#000" stroke-width="1.3">
<text x="501.3" y="72.6" textLength="147.0" lengthAdjust="spacingAndGlyphs">Global</text>
<text x="655.33" y="72.6" textLength="185.97" lengthAdjust="spacingAndGlyphs">Liquidity</text>
<text x="850.35" y="72.6" textLength="120.96" lengthAdjust="spacingAndGlyphs">Index</text>
<text x="985.51" y="72.6" textLength="85.19" lengthAdjust="spacingAndGlyphs">and</text>
<text x="1079.88" y="72.6" textLength="155.63" lengthAdjust="spacingAndGlyphs">Bitcoin</text>
<text x="1244.56" y="72.6" textLength="20.14" lengthAdjust="spacingAndGlyphs">-</text>
<text x="1271.74" y="72.6" textLength="92.75" lengthAdjust="spacingAndGlyphs">May</text>
<text x="1382.15" y="72.6" textLength="109.16" lengthAdjust="spacingAndGlyphs">2024</text>
</g>
<g id="logo" fill="none" stroke="#e58c66" stroke-width="1.5" stroke-linejoin="miter">
<path d="M52.9,23.6C54.33,23.6 55.85,23.83 57.2,24.1C58.55,24.37 59.83,24.73 61,25.2C62.17,25.67 63.22,26.27 64.2,26.9C65.18,27.53 66.07,28.2 66.9,29C67.73,29.8 68.53,30.77 69.2,31.7C69.87,32.63 70.43,33.6 70.9,34.6C71.37,35.6 71.7,36.7 72,37.7C72.3,38.7 72.42,39.72 72.7,40.6C72.98,41.48 73.17,42.17 73.7,43C74.23,43.83 75.05,44.62 75.9,45.6C76.75,46.58 77.93,47.68 78.8,48.9C79.67,50.12 80.47,51.47 81.1,52.9C81.73,54.33 82.28,55.98 82.6,57.5C82.92,59.02 83.07,60.47 83,62C82.93,63.53 82.6,65.23 82.2,66.7C81.8,68.17 81.27,69.55 80.6,70.8C79.93,72.05 79.13,73.17 78.2,74.2C77.27,75.23 76.15,76.22 75,77C73.85,77.78 72.55,78.42 71.3,78.9C70.05,79.38 68.73,79.72 67.5,79.9C66.27,80.08 65.07,80.05 63.9,80C62.73,79.95 61.57,79.8 60.5,79.6C59.43,79.4 58.42,79.08 57.5,78.8C56.58,78.52 55.77,78.12 55,77.9C54.23,77.68 53.6,77.5 52.9,77.5C52.2,77.5 51.57,77.68 50.8,77.9C50.03,78.12 49.22,78.52 48.3,78.8C47.38,79.08 46.37,79.4 45.3,79.6C44.23,79.8 43.07,79.95 41.9,80C40.73,80.05 39.53,80.08 38.3,79.9C37.07,79.72 35.75,79.38 34.5,78.9C33.25,78.42 31.95,77.78 30.8,77C29.65,76.22 28.53,75.23 27.6,74.2C26.67,73.17 25.87,72.05 25.2,70.8C24.53,69.55 24,68.17 23.6,66.7C23.2,65.23 22.87,63.53 22.8,62C22.73,60.47 22.88,59.02 23.2,57.5C23.52,55.98 24.07,54.33 24.7,52.9C25.33,51.47 26.13,50.12 27,48.9C27.87,47.68 29.05,46.58 29.9,45.6C30.75,44.62 31.57,43.83 32.1,43C32.63,42.17 32.82,41.48 33.1,40.6C33.38,39.72 33.5,38.7 33.8,37.7C34.1,36.7 34.43,35.6 34.9,34.6C35.37,33.6 35.93,32.63 36.6,31.7C37.27,30.77 38.07,29.8 38.9,29C39.73,28.2 40.62,27.53 41.6,26.9C42.58,26.27 43.63,25.67 44.8,25.2C45.97,24.73 47.25,24.37 48.6,24.1C49.95,23.83 51.47,23.6 52.9,23.6Z"/>
<path d="M52.3,33.4 L53.5,33.4 L71.3,68.1 L63.7,68.1 L60.5,62.6 L45.3,62.6 L42.1,68.1 L34.5,68.1 Z M52.9,48.6 L48.9,55.1 L56.9,55.1 Z"/>
</g>
<text x="99" y="48.8" font-size="35" fill="#fff" stroke="#000" stroke-width="0.5" textLength="107.6" lengthAdjust="spacingAndGlyphs">Ainslie</text>
<text x="100.6" y="80" font-size="35" fill="#ec9066" stroke="#000" stroke-width="0.5" textLength="107.6" lengthAdjust="spacingAndGlyphs">Wealth</text>
<path d="M211.0,80.5 L216.7,80.5 L213.85,76.3 Z" fill="#ec9066"/>
<path d="M568.4,1262.6 L611,1262.6" fill="none" stroke="url(#lg2)" stroke-width="8.4" stroke-linecap="round"/>
<path d="M596.2,1252.7 L612.5,1262.6 L596.2,1272.5" fill="none" stroke="url(#lg2)" stroke-width="8.4" stroke-linecap="round" stroke-linejoin="miter" stroke-miterlimit="10"/>
<text x="627" y="1269.2" font-size="23.8" fill="#fff" stroke="#fff" stroke-width="0.3" textLength="232.8" lengthAdjust="spacingAndGlyphs">Global Liquidity Index</text>
<path d="M922.7,1263.1 L967,1263.1" fill="none" stroke="#1a7cd2" stroke-width="5.8" stroke-linecap="round"/>
<path d="M954,1254.3 L968.9,1263.1 L954,1271.9" fill="none" stroke="#1a7cd2" stroke-width="6" stroke-linecap="round" stroke-linejoin="miter" stroke-miterlimit="10"/>
<text x="980.5" y="1269.2" font-size="23.8" fill="#fff" stroke="#fff" stroke-width="0.3" textLength="455.8" lengthAdjust="spacingAndGlyphs">Average Bitcoin Price for the Month (USD)</text>
<text x="1628.5" y="1282.3" font-size="13.5" fill="#fff" stroke="#fff" stroke-width="0.35" textLength="352.5" lengthAdjust="spacingAndGlyphs">Source of Global Liquidity Index Data: CrossBorder Capital</text>
</svg>
</body></html>
